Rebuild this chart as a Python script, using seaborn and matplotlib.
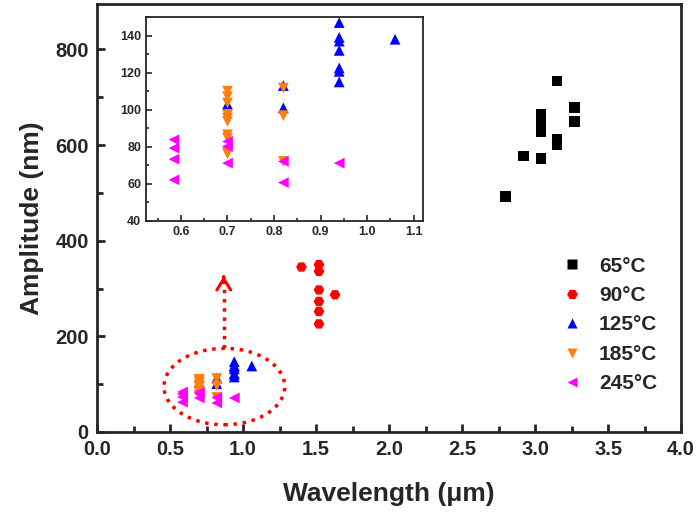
import numpy as np
import pandas as pd
import seaborn as sns
import matplotlib.pyplot as plt
from matplotlib.patches import Ellipse
from matplotlib.ticker import MultipleLocator

# values
t65_x = [3.15, 3.27, 3.27, 3.04, 3.04, 3.04, 3.15, 3.15, 2.92, 3.04, 2.80]
t65_y = [734, 678, 650, 664, 650, 629, 612, 601, 577, 572, 493]
t90_x = [1.40, 1.52, 1.52, 1.52, 1.52, 1.52, 1.52, 1.63]
t90_y = [345, 350, 336, 297, 273, 252, 226, 287]
t125_x = [0.94, 0.94, 0.94, 0.94, 0.94, 0.94, 0.94, 1.06, 0.82, 0.82, 0.70]
t125_y = [147, 139, 137, 132, 122.5, 120.7, 115, 138, 113, 101, 103]
t185_x = [0.70, 0.70, 0.70, 0.70, 0.70, 0.70, 0.70, 0.70, 0.70, 0.70, 0.82, 0.82, 0.82]
t185_y = [110, 107, 103.6, 97.3, 95.5, 93.7, 86.5, 84.7, 77.5, 76.2, 111.7, 96.8, 72.1]
t245_x = [0.585, 0.585, 0.585, 0.585, 0.70, 0.70, 0.70, 0.82, 0.82, 0.94]
t245_y = [83.8, 79.3, 73.3, 62.2, 82.9, 80.2, 71.2, 72.1, 60.7, 71.2]

labels = ["65°C", "90°C", "125°C", "185°C", "245°C"]
colors = ["#000000", "#FF0000", "#0000FF", "#FF7F0E", "#FF00FF"]
marks = ["s", "H", "^", "v", "<"]

xs = [t65_x, t90_x, t125_x, t185_x, t245_x]
ys = [t65_y, t90_y, t125_y, t185_y, t245_y]
df = pd.concat([pd.DataFrame({"wl": x, "amp": y, "T": lab}) for x, y, lab in zip(xs, ys, labels)],
               ignore_index=True)

sns.set_style("ticks")
plt.rcParams['font.family'] = ['Liberation Sans', 'DejaVu Sans']
plt.rcParams['font.weight'] = 'bold'
plt.rcParams['axes.labelweight'] = 'bold'

fig = plt.figure(figsize=(7, 5.15), dpi=100)
ax = fig.add_axes([0.1386, 0.1612, 0.8344, 0.8310])

pal = dict(zip(labels, colors))
mk = dict(zip(labels, marks))
sns.scatterplot(data=df, x="wl", y="amp", hue="T", style="T", hue_order=labels, style_order=labels,
                palette=pal, markers=mk, s=60, edgecolor="none", ax=ax)

ax.set_xlim(0, 4.0)
ax.set_ylim(0, 895)
ax.xaxis.set_major_locator(MultipleLocator(0.5))
ax.xaxis.set_minor_locator(MultipleLocator(0.25))
ax.yaxis.set_major_locator(MultipleLocator(200))
ax.yaxis.set_minor_locator(MultipleLocator(100))
ax.tick_params(which='both', direction='in', top=False, right=False, labelsize=14.5, width=2)
ax.tick_params(which='major', length=6, pad=6)
ax.tick_params(which='minor', length=4)
for lab in ax.get_xticklabels() + ax.get_yticklabels():
    lab.set_fontweight('bold')
ax.xaxis.set_major_formatter(plt.FuncFormatter(lambda v, p: f"{v:.1f}"))
for s in ax.spines.values():
    s.set_linewidth(2)
ax.set_xlabel("Wavelength (\u03bcm)", fontsize=19, fontweight='bold', labelpad=16)
ax.set_ylabel("Amplitude (nm)", fontsize=19, fontweight='bold', labelpad=8)

# dotted ellipse and arrow
ax.add_patch(Ellipse((0.872, 95), 0.827, 160, fill=False, edgecolor='red', linestyle=':', lw=2.5))
ax.plot([0.868, 0.868], [175, 322], color='red', linestyle=':', lw=2.5)
ax.annotate('', xy=(0.868, 332), xytext=(0.868, 318),
            arrowprops=dict(arrowstyle='->,head_width=0.5,head_length=0.8', color='red', lw=2.2))

handles, _ = ax.get_legend_handles_labels()
leg = ax.legend(handles=handles, labels=labels, loc='center left', bbox_to_anchor=(0.775, 0.369),
                bbox_transform=fig.transFigure, frameon=False, fontsize=15, labelspacing=0.5,
                handletextpad=0.8, handlelength=1.0, markerscale=1.0)
for t in leg.get_texts():
    t.set_fontweight('bold')

# inset
ins = fig.add_axes([0.2086, 0.5709, 0.3957, 0.3961])
sns.scatterplot(data=df, x="wl", y="amp", hue="T", style="T", hue_order=labels, style_order=labels,
                palette=pal, markers=mk, s=60, edgecolor="none", ax=ins, legend=False)
ins.set_xlim(0.525, 1.12)
ins.set_ylim(40, 150)
ins.xaxis.set_major_locator(MultipleLocator(0.1))
ins.xaxis.set_minor_locator(MultipleLocator(0.05))
ins.yaxis.set_major_locator(MultipleLocator(20))
ins.yaxis.set_minor_locator(MultipleLocator(10))
ins.tick_params(which='both', direction='in', top=False, right=False, labelsize=9, width=1.2)
ins.tick_params(which='major', length=4)
ins.tick_params(which='minor', length=2)
ins.xaxis.set_major_formatter(plt.FuncFormatter(lambda v, p: f"{v:.1f}"))
for lab in ins.get_xticklabels() + ins.get_yticklabels():
    lab.set_fontweight('bold')
for s in ins.spines.values():
    s.set_linewidth(1.3)
ins.set_xlabel("")
ins.set_ylabel("")

fig.savefig("out.png", dpi=100)
